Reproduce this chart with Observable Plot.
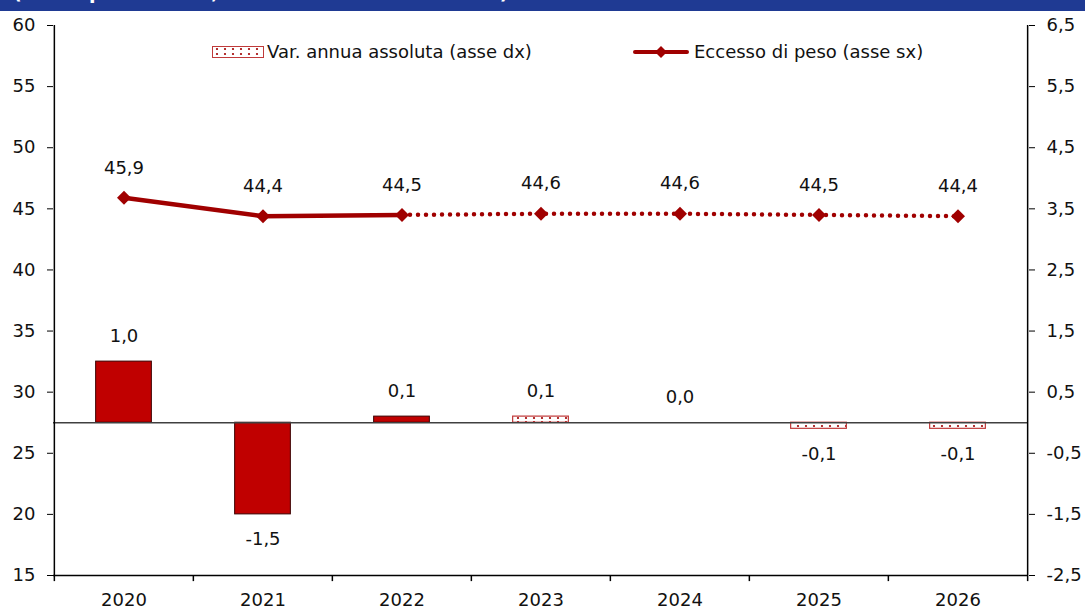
<!DOCTYPE html>
<html>
<head>
<meta charset="utf-8">
<script src="https://cdn.jsdelivr.net/npm/d3@7"></script>
<script src="https://cdn.jsdelivr.net/npm/@observablehq/plot@0.6"></script>
<style>
  body { margin: 0; background: #fff; font-family: "DejaVu Sans", sans-serif; }
  #wrap { position: relative; width: 1085px; height: 610px; overflow: hidden; }
  #banner { height: 11px; background: #1f3a93; overflow: hidden; position: relative; }
  #banner span { position: absolute; left: 13px; top: -18px; color: #fff; font-weight: bold;
    font-size: 19px; line-height: 20px; white-space: nowrap; }
  .leg { position: absolute; top: 41px; display: flex; align-items: center; font-size: 18px; color: #111; white-space: nowrap; }
  .leg svg { display: block; margin-right: 3px; }
</style>
</head>
<body>
<div id="wrap">
  <div id="banner"><span>(valori percentuali; variazioni assolute annue)</span></div>
  <div id="chart"></div>
  <div class="leg" style="left:212px">
    <svg width="52" height="12">
      <defs>
        <pattern id="legDots" width="8" height="5" patternUnits="userSpaceOnUse" x="1" y="0">
          <rect width="8" height="5" fill="#fff"></rect>
          <circle cx="4" cy="3" r="1.1" fill="#a00000"></circle>
        </pattern>
      </defs>
      <rect x="0.5" y="0.5" width="51" height="11" fill="url(#legDots)" stroke="#c03a3a" stroke-width="1"></rect>
    </svg>
    <span>Var. annua assoluta (asse dx)</span>
  </div>
  <div class="leg" style="left:633px">
    <svg width="58" height="14">
      <line x1="2" y1="7" x2="54" y2="7" stroke="#a00000" stroke-width="4" stroke-linecap="round"></line>
      <path d="M28,1 L34,7 L28,13 L22,7 Z" fill="#a00000"></path>
    </svg>
    <span>Eccesso di peso (asse sx)</span>
  </div>
</div>
<script>
// ---- data ----
const years = ["2020", "2021", "2022", "2023", "2024", "2025", "2026"];
const varAnnua = [1.0, -1.5, 0.1, 0.1, 0.0, -0.1, -0.1];          // right axis (asse dx)
const varPrevisione = [false, false, false, true, true, true, true]; // dotted bars = forecast
const eccessoPeso = [45.9, 44.4, 44.5, 44.6, 44.6, 44.5, 44.4];     // left axis (asse sx)
const lastActualIndex = 2;                                          // solid line up to 2022
const leftTicks = [15, 20, 25, 30, 35, 40, 45, 50, 55, 60];
const rightTickLabels = ["-2,5", "-1,5", "-0,5", "0,5", "1,5", "2,5", "3,5", "4,5", "5,5", "6,5"];

// right axis mapping onto left scale: 0 (dx) <-> 27.5 (sx), 1 unit dx = 5 units sx
const ZERO = 27.5, RATIO = 5;
const toLeft = v => ZERO + RATIO * v;
const fmt = v => v.toFixed(1).replace(".", ",");

const bars = years.map((y, i) => ({year: y, v: varAnnua[i], prev: varPrevisione[i]}));
const line = years.map((y, i) => ({year: y, v: eccessoPeso[i], i}));

const W = 1085, H = 599, mL = 53, mR = 57, mT = 14, mB = 35;
const bw = (W - mL - mR) / years.length;
const inset = (bw - 56) / 2;
const RED = "#c00000", DARK = "#a00000";
const FS = 18;

const svg = Plot.plot({
  width: W, height: H,
  marginLeft: mL, marginRight: mR, marginTop: mT, marginBottom: mB,
  style: {fontFamily: "'DejaVu Sans', sans-serif", fontSize: FS + "px", color: "#111", background: "#fff"},
  x: {type: "band", domain: years, padding: 0, axis: null, label: null},
  y: {domain: [15, 60], axis: null, label: null},
  marks: [
    Plot.barY(bars.filter(d => !d.prev), {x: "year", y1: ZERO, y2: d => toLeft(d.v),
      fill: RED, stroke: "#3a0000", strokeWidth: 1, insetLeft: inset, insetRight: inset}),
    Plot.barY(bars.filter(d => d.prev && d.v !== 0), {x: "year", y1: ZERO, y2: d => toLeft(d.v),
      fill: "url(#barDots)", stroke: "#c03a3a", strokeWidth: 1.2, insetLeft: inset, insetRight: inset}),
    Plot.ruleY([ZERO], {stroke: "#404040", strokeWidth: 1.5}),
    Plot.ruleY([15], {stroke: "#000", strokeWidth: 1.5}),
    Plot.ruleX([years[0]], {dx: -bw / 2, stroke: "#000", strokeWidth: 1.5}),
    Plot.ruleX([years[years.length - 1]], {dx: bw / 2, stroke: "#000", strokeWidth: 1.5}),
    Plot.ruleX(years, {dx: -bw / 2, y1: 15, y2: 14.5, stroke: "#000", strokeWidth: 1.5}),
    Plot.ruleX([years[years.length - 1]], {dx: bw / 2, y1: 15, y2: 14.5, stroke: "#000", strokeWidth: 1.5}),
    Plot.axisY({anchor: "left", ticks: leftTicks, tickSize: 6, tickPadding: 12, label: null,
      tickFormat: d => String(d), fontSize: FS, stroke: "#000"}),
    Plot.axisY({anchor: "right", ticks: leftTicks, tickSize: 6, tickPadding: 12, label: null,
      tickFormat: d => rightTickLabels[leftTicks.indexOf(d)], fontSize: FS, stroke: "#000"}),
    Plot.axisX({tickSize: 0, tickPadding: 18, fontSize: FS, label: null}),
    Plot.line(line.filter(d => d.i <= lastActualIndex), {x: "year", y: "v", stroke: DARK, strokeWidth: 4.5}),
    Plot.line(line.filter(d => d.i >= lastActualIndex), {x: "year", y: "v", stroke: DARK, strokeWidth: 4.5,
      strokeDasharray: "0 8", strokeLinecap: "round"}),
    Plot.dot(line, {x: "year", y: "v", symbol: "diamond2", r: 6.3, fill: DARK}),
    Plot.text(line, {x: "year", y: "v", text: d => fmt(d.v), dy: -30, fontSize: FS, fill: "#111"}),
    Plot.text(bars.filter(d => d.v >= 0), {x: "year", y: d => toLeft(d.v), text: d => fmt(d.v), dy: -25, fontSize: FS, fill: "#111"}),
    Plot.text(bars.filter(d => d.v < 0), {x: "year", y: d => toLeft(d.v), text: d => fmt(d.v), dy: 25, fontSize: FS, fill: "#111"})
  ]
});

// dotted fill pattern for forecast bars
d3.select(svg).insert("defs", ":first-child").html(
  '<pattern id="barDots" width="8" height="4" patternUnits="userSpaceOnUse" x="2" y="1">' +
  '<rect width="8" height="4" fill="#fff"></rect>' +
  '<circle cx="4" cy="2" r="1.1" fill="#a00000"></circle></pattern>'
);

document.getElementById("chart").appendChild(svg);
</script>
</body>
</html>
